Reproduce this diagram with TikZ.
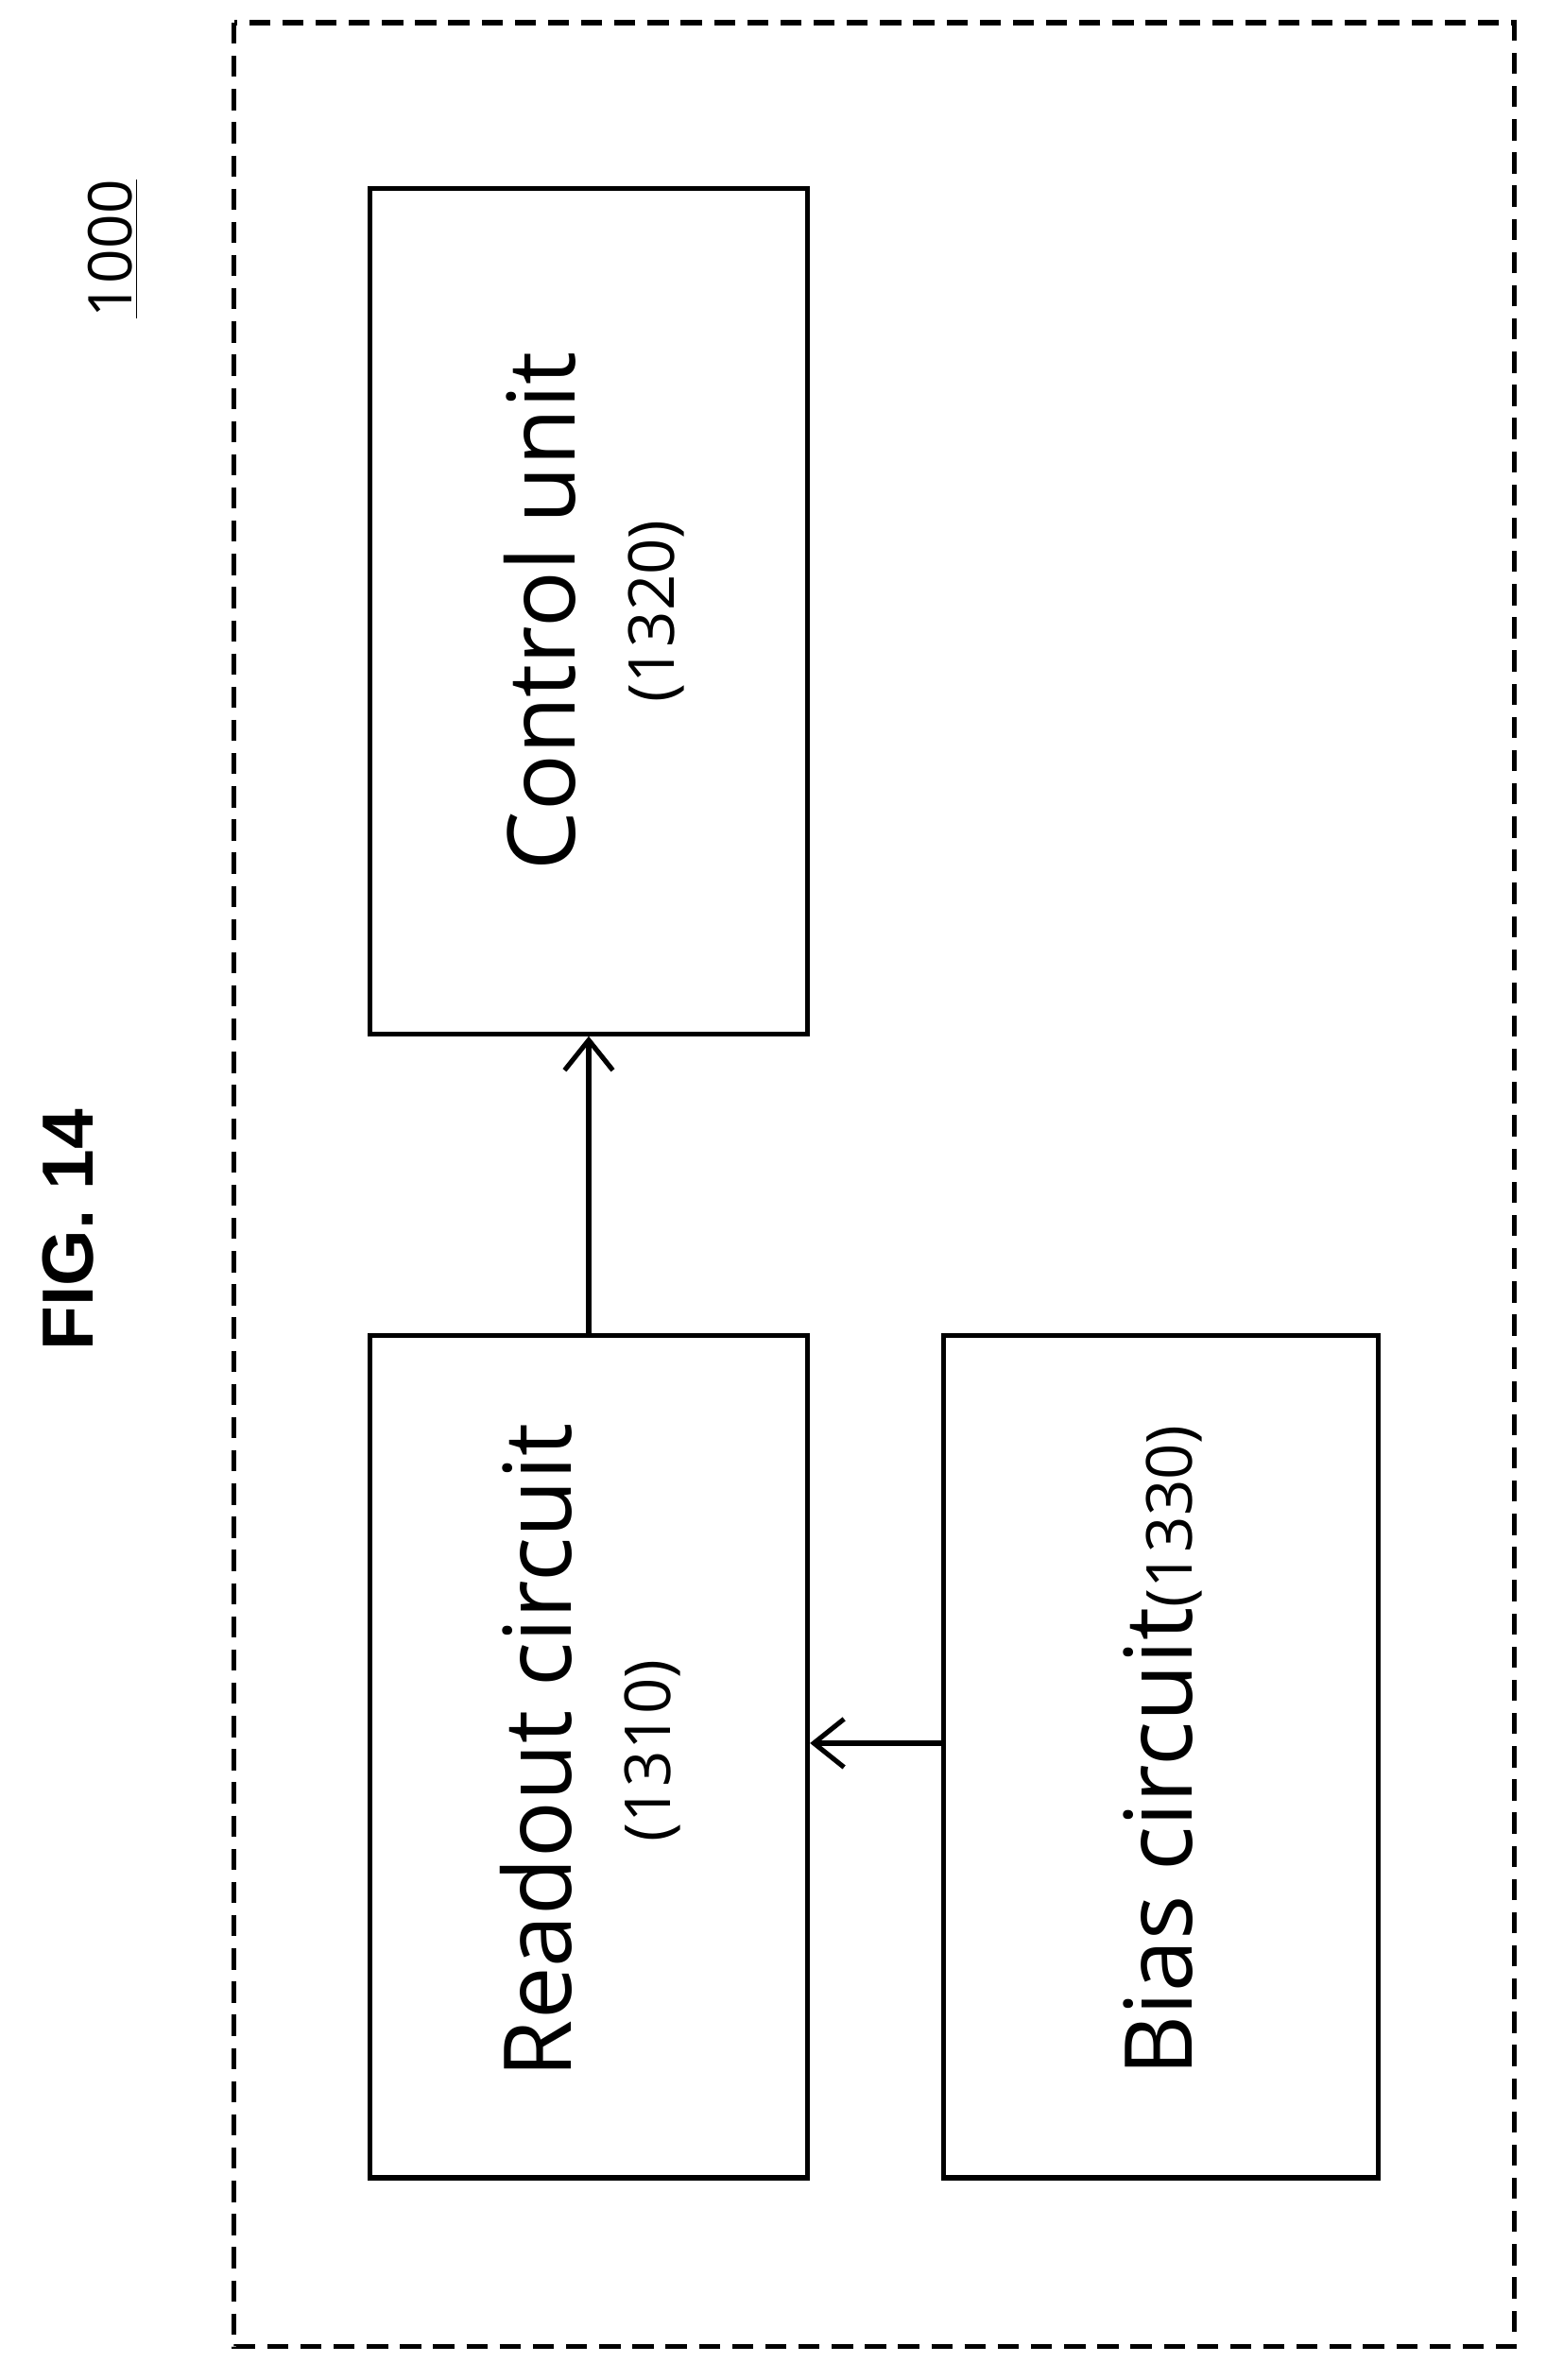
\documentclass[tikz,border=0pt]{standalone}
\usetikzlibrary{arrows.meta}
\usepackage{fontspec}
\setmainfont{Open Sans}
\newfontfamily\figfont{Liberation Sans}
\begin{document}
\begin{tikzpicture}[x=0.5pt,y=-0.5pt,
  box/.style={draw,line width=1.6pt},
  arr/.style={line width=1.6pt,-{Straight Barb[length=10pt,width=16pt]}},
  big/.style={rotate=90,font=\fontsize{31}{36}\selectfont},
  small/.style={rotate=90,font=\fontsize{21}{25}\selectfont}]
\useasboundingbox (0,0) rectangle (1024,1577);
\draw[line width=1.6pt,dash pattern=on 7pt off 4pt] (155,15) rectangle (1003,1555);
\node[rotate=90,font=\figfont\bfseries\fontsize{24}{28}\selectfont] (fig) at (45,815) {FIG. 14};
\node[rotate=90,font=\fontsize{20}{24}\selectfont] (lbl) at (75,165) {\underline{1000}};
\node[box,minimum width=145pt,minimum height=280pt] (ctrl) at (390,405) {};
\node[big] (ct) at (358,405) {Control unit};
\node[small] (cn) at (435,405) {(1320)};
\node[box,minimum width=145pt,minimum height=279pt] (read) at (390,1164) {};
\node[big] (rt) at (355,1160) {Readout circuit};
\node[small] (rn) at (432,1160) {(1310)};
\node[box,minimum width=144pt,minimum height=279pt] (bias) at (769,1164) {};
\node[rotate=90] (bt) at (770,1160) {\fontsize{31}{36}\selectfont Bias circuit\fontsize{21}{25}\selectfont(1330)};
\draw[arr] (read.north) -- (ctrl.south);
\coordinate (b1) at (625,1155);
\draw[arr] (b1) -- (read.east |- b1);
\end{tikzpicture}
\end{document}
